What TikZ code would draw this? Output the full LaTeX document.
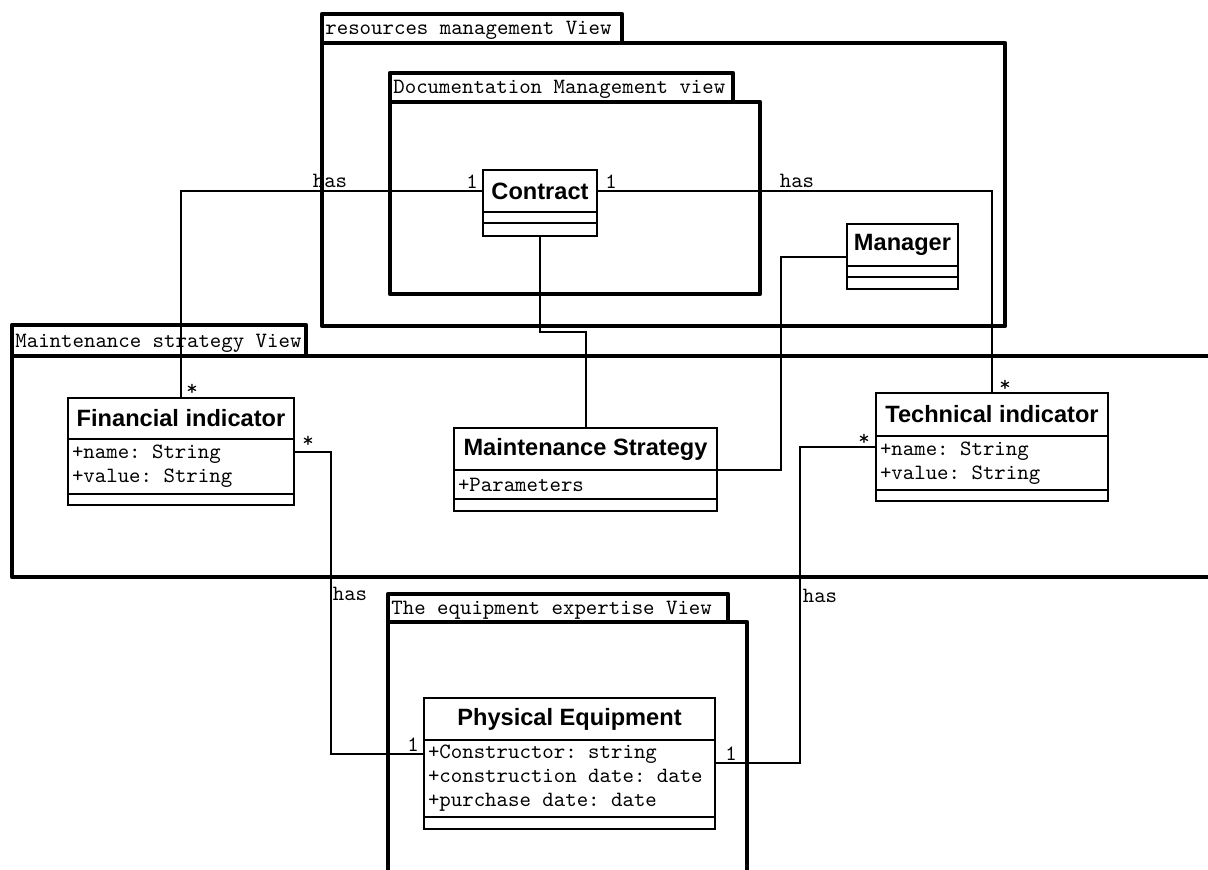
\documentclass[tikz,border=0pt]{standalone}
\usepackage{fontspec}
\usepackage{tikz}
\usetikzlibrary{calc}
\newfontfamily\umlsans{Liberation Sans}
\newcommand\umltt{\ttfamily\fontsize{10.9}{12}\selectfont}
\newcommand\ttspaces{\spaceskip=.525em\relax\xspaceskip=.525em\relax}

\begin{document}
\begin{tikzpicture}[x=0.5pt, y=-0.5pt,
	pkg/.style={line width=2.2pt, line join=round},
	pkgname/.style={anchor=base west, inner sep=0pt, font=\umltt},
	classname/.style={draw, fill=white, line width=1.2pt, inner sep=0pt, outer sep=0pt, minimum height=21pt, anchor=north west,
		font=\umlsans\bfseries\fontsize{11.8}{13}\selectfont},
	classpart/.style={draw, fill=white, line width=1.2pt, inner xsep=2pt, inner ysep=0pt, outer sep=0pt, anchor=north, align=left,
		font=\umltt, execute at begin node=\ttspaces},
	assoc/.style={line width=1pt},
	mult/.style={anchor=base, inner sep=0pt, font=\umltt}]
	%\draw[help lines, step=50] (0,0) grid (1208,870);
	\path[use as bounding box] (0,0) rectangle (1208,870);
	\clip (0,0) rectangle (1208,870);

	% packages
	\draw[pkg] (322,14) rectangle (622,43);
	\draw[pkg] (322,43) rectangle (1005,326);
	\node[pkgname] (res-name) at (325,35) {resources management View};
	\draw[pkg] (390,73) rectangle (733,102);
	\draw[pkg] (390,102) rectangle (760,294);
	\node[pkgname] (doc-name) at (393,94) {Documentation Management view};
	\draw[pkg] (12,325) rectangle (306,356);
	\draw[pkg] (12,356) rectangle (1240,577);
	\node[pkgname] (strat-name) at (15,348) {Maintenance strategy View};
	\draw[pkg] (388,594) rectangle (728,622);
	\draw[pkg] (388,622) rectangle (747,900);
	\node[pkgname] (equip-name) at (391,614) {The equipment expertise View};

	% classes
	\node[classname, minimum width=57pt] (contract) at (483,170) {Contract};
	\node[classpart, minimum width=57pt, minimum height=5.5pt] (contract-attr) at (contract.south) {};
	\node[classpart, minimum width=57pt, minimum height=6.5pt] (contract-op) at (contract-attr.south) {};

	\node[classname, minimum width=55.5pt] (manager) at (847,224) {Manager};
	\node[classpart, minimum width=55.5pt, minimum height=5.5pt] (manager-attr) at (manager.south) {};
	\node[classpart, minimum width=55.5pt, minimum height=6pt] (manager-op) at (manager-attr.south) {};

	\node[classname, minimum width=113pt, minimum height=20.5pt] (fin) at (68,398) {Financial indicator};
	\node[classpart, text width=109pt, minimum height=27.5pt] (fin-attr) at (fin.south) {+name: String\\+value: String};
	\node[classpart, minimum width=113pt, minimum height=5.5pt] (fin-op) at (fin-attr.south) {};

	\node[classname, minimum width=131.5pt] (strategy) at (454,428) {Maintenance Strategy};
	\node[classpart, text width=127.5pt, minimum height=14.5pt] (strategy-attr) at (strategy.south) {+Parameters};
	\node[classpart, minimum width=131.5pt, minimum height=6pt] (strategy-op) at (strategy-attr.south) {};

	\node[classname, minimum width=116pt, minimum height=21.5pt] (tech) at (876,393) {Technical indicator};
	\node[classpart, text width=112pt, minimum height=27pt] (tech-attr) at (tech.south) {+name: String\\+value: String};
	\node[classpart, minimum width=116pt, minimum height=5.5pt] (tech-op) at (tech-attr.south) {};

	\node[classname, minimum width=145.5pt] (equip) at (424,698) {Physical Equipment};
	\node[classpart, text width=141.5pt, minimum height=38.5pt] (equip-attr) at (equip.south) {+Constructor: string\\+construction date: date\\+purchase date: date};
	\node[classpart, minimum width=145.5pt, minimum height=6pt] (equip-op) at (equip-attr.south) {};

	% associations
	\draw[assoc] (contract.west) -| (fin.north);
	\draw[assoc] (contract.east) -| (tech.north);
	\draw[assoc] (contract-op.south) -- ++(0,96) -| (strategy.north);
	\draw[assoc] ($(manager.south west)+(0,-9)$) -- ++(-66,0) |- (strategy.south east);
	\draw[assoc] ($(fin-attr.north east)+(0,13)$) -- ++(37,0) |- ($(equip-attr.north west)+(0,14)$);
	\draw[assoc] ($(tech-attr.north west)+(0,11)$) -- ++(-76,0) |- ($(equip-attr.north east)+(0,23)$);

	% roles and multiplicities
	\node[mult] (has-fin) at (330,188) {has};
	\node[mult] (one-cl) at (472,189) {1};
	\node[mult] (one-cr) at (611,189) {1};
	\node[mult] (has-tech) at (797,188) {has};
	\node[mult] (star-ft) at (192,396) {*};
	\node[mult] (star-fr) at (308,448) {*};
	\node[mult] (star-tt) at (1005,392) {*};
	\node[mult] (star-tl) at (864,446) {*};
	\node[mult] (has-fe) at (350,600) {has};
	\node[mult] (has-te) at (820,602) {has};
	\node[mult] (one-el) at (413,751) {1};
	\node[mult] (one-er) at (731,760) {1};
\end{tikzpicture}
\end{document}
